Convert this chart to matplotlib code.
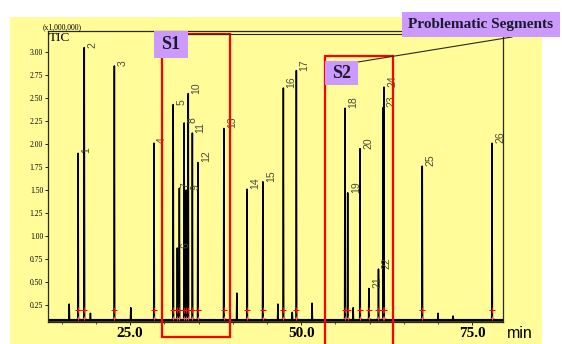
import numpy as np
import matplotlib
matplotlib.use("Agg")
from matplotlib import pyplot as plt
from matplotlib.patches import Rectangle
from matplotlib.lines import Line2D

# peaks (retention time in min, height in 1e6 counts)
peak_labels = [str(i) for i in range(1, 27)]
peak_times = [17.4, 18.3, 22.7, 28.5, 31.3, 31.9, 32.2, 32.9, 33.2, 33.5, 34.1, 34.9, 38.7,
              42.1, 44.4, 47.4, 49.3, 56.4, 56.8, 58.6, 59.9, 61.3, 62.0, 62.1, 67.7, 77.9]
peak_heights = [1.90, 3.05, 2.85, 2.01, 2.43, 0.87, 1.52, 2.23, 1.50, 2.55, 2.12, 1.80, 2.17,
                1.51, 1.59, 2.61, 2.80, 2.39, 1.47, 1.95, 0.43, 0.64, 2.40, 2.62, 1.76, 2.01]
# small unlabelled peaks
minor_times = [16.1, 19.2, 25.1, 40.6, 46.6, 48.7, 51.6, 57.6, 70.0, 72.2]
minor_heights = [0.26, 0.16, 0.22, 0.38, 0.26, 0.17, 0.27, 0.22, 0.16, 0.13]
baseline = 0.09

x_ticks = [25.0, 50.0, 75.0]
y_ticks = [0.25, 0.50, 0.75, 1.00, 1.25, 1.50, 1.75, 2.00, 2.25, 2.50, 2.75, 3.00]

W, H = 562, 344
YELLOW = '#fffc99'
PURPLE = '#cc99ff'


def fx(x):
    return x / W


def fy(y):
    return 1 - y / H


def build_trace(times, heights, half=0.05):
    #turns peak list into a polyline sitting on the baseline
    order = np.argsort(times)
    xs = [13.0]
    ys = [baseline]
    for i in order:
        t = times[i]
        xs += [t - half, t, t + half]
        ys += [baseline, heights[i], baseline]
    xs.append(79.5)
    ys.append(baseline)
    return xs, ys


def main():
    fig = plt.figure(figsize=(W / 100, H / 100), dpi=100)
    fig.patches.append(Rectangle((fx(10), 0), fx(542) - fx(10), fy(17), transform=fig.transFigure,
                                 facecolor=YELLOW, edgecolor='none', zorder=-10))
    ax = fig.add_axes([fx(48), fy(322), fx(503) - fx(48), fy(31) - fy(322)])
    ax.set_facecolor(YELLOW)
    ax.patch.set_alpha(0)

    times = peak_times + minor_times
    heights = peak_heights + minor_heights
    xs, ys = build_trace(times, heights)
    ax.plot(xs, ys, color='black', lw=1.1)
    ax.plot([13.0, 79.5], [baseline, baseline], color='black', lw=1.8)

    # integration marks
    ax.plot(peak_times, [0.2] * len(peak_times), '+', color='red', ms=4, mew=0.7)
    ax.plot(peak_times, [0.11] * len(peak_times), '+', color='#ff6060', ms=3, mew=0.6)

    for lab, t, h in zip(peak_labels, peak_times, peak_heights):
        dx = 5.8
        if lab == '7':
            dx = 4.5
        if lab == '9':
            dx = 6.5
        ax.annotate(lab, (t, h), xytext=(dx, 0), textcoords='offset points', rotation=90,
                    ha='center', va='bottom', fontsize=7.5, color='#4a4a3a',
                    family='Liberation Sans')

    ax.set_xlim(13.0, 79.5)
    ax.set_ylim(0.065, 3.23)
    ax.set_xticks(x_ticks)
    ax.set_xticklabels(['%.1f' % v for v in x_ticks], family='Liberation Serif',
                       fontweight='bold', fontsize=11)
    ax.set_xticks(np.arange(15, 80, 5), minor=True)
    ax.set_yticks(y_ticks)
    ax.set_yticklabels(['%.2f' % v for v in y_ticks], family='Liberation Serif', fontsize=5.5)
    ax.tick_params(axis='x', length=2, width=0.6, pad=1.5)
    ax.tick_params(axis='x', which='minor', length=1.2, width=0.5)
    ax.tick_params(axis='y', length=2.5, width=0.6, pad=1)
    for s in ax.spines.values():
        s.set_color('#2a2a1a')
        s.set_linewidth(0.9)

    fig.text(fx(43), fy(27), '(x1,000,000)', family='Liberation Serif', fontsize=5.5,
             va='center', ha='left')
    fig.text(fx(49), fy(38), 'TIC', family='Liberation Serif', fontsize=9.5,
             va='center', ha='left')
    fig.text(fx(507), fy(333), 'min', family='Liberation Sans', fontsize=11.5,
             va='center', ha='left')

    # red segment boxes
    fig.patches.append(Rectangle((fx(162), fy(337)), fx(230) - fx(162), fy(34) - fy(337),
                                 transform=fig.transFigure, fill=False, edgecolor='red',
                                 lw=1.6, zorder=5))
    fig.patches.append(Rectangle((fx(325), fy(350)), fx(393) - fx(325), fy(56) - fy(350),
                                 transform=fig.transFigure, fill=False, edgecolor='red',
                                 lw=1.6, zorder=5, clip_on=False))

    # callout lines
    fig.lines.append(Line2D([fx(188), fx(402)], [fy(34), fy(34)], transform=fig.transFigure,
                            color='#2a2a1a', lw=0.8, zorder=6))
    fig.lines.append(Line2D([fx(512), fx(358)], [fy(37), fy(62)], transform=fig.transFigure,
                            color='#2a2a1a', lw=0.8, zorder=6))

    # purple labels
    boxes = [('S1', 154, 31, 188, 58, 13), ('S2', 325, 61, 358, 85, 13),
             ('Problematic Segments', 402, 12, 560, 37, 11)]
    for txt, x0, y0, x1, y1, fs in boxes:
        fig.patches.append(Rectangle((fx(x0), fy(y1)), fx(x1) - fx(x0), fy(y0) - fy(y1),
                                     transform=fig.transFigure, facecolor=PURPLE,
                                     edgecolor='none', zorder=7))
        fig.text(fx((x0 + x1) / 2), fy((y0 + y1) / 2), txt, family='Liberation Serif',
                 fontweight='bold', fontsize=fs, ha='center', va='center', zorder=8,
                 color='#1a1a2a')

    fig.savefig('out.png', dpi=100)


if __name__ == '__main__':
    main()
